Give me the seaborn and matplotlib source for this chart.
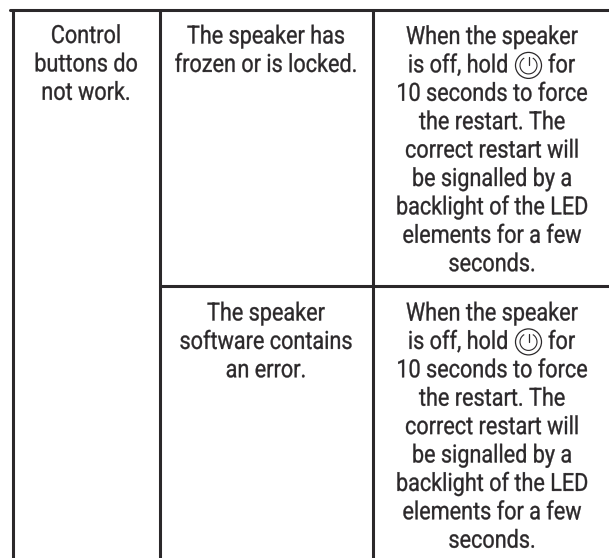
import matplotlib
matplotlib.use('Agg')
import matplotlib.pyplot as plt
from matplotlib.patches import Arc
from matplotlib.patheffects import AbstractPathEffect
from matplotlib.transforms import Affine2D
import pandas as pd
import seaborn as sns

sns.set_theme(style='white')
plt.rcParams['font.family'] = ['Roboto', 'DejaVu Sans']
INK = '#2b282a'
SIZE = 18.0
NARROW = 0.865

# tekst komorek
col1 = ['Control', 'buttons do', 'not work.']
col2_top = ['The speaker has', 'frozen or is locked.']
col2_bottom = ['The speaker', 'software contains', 'an error.']
col3 = ['When the speaker', None, '10 seconds to force', 'the restart. The',
        'correct restart will', 'be signalled by a', 'backlight of the LED',
        'elements for a few', 'seconds.']
icon_left = 'is off, hold'
icon_right = 'for'

# linie tabeli
rule_x0 = [10, 160, 12.5, 160, 372.7]
rule_x1 = [609, 609, 12.5, 160, 372.7]
rule_y0 = [9.5, 285.7, 10, 10, 10]
rule_y1 = [9.5, 285.7, 558, 558, 558]

rows = []
for i in range(len(rule_x0)):
    rows.append({'rule': i, 'x': rule_x0[i], 'y': rule_y0[i]})
    rows.append({'rule': i, 'x': rule_x1[i], 'y': rule_y1[i]})
lines = pd.DataFrame(rows)


# zweza tekst w poziomie, bo nie ma kroju condensed
class Squeeze(AbstractPathEffect):
    def __init__(self, anchor):
        super().__init__()
        self.anchor = anchor

    def draw_path(self, renderer, gc, tpath, affine, rgbFace=None):
        cx = ax.transData.transform((self.anchor, 0))[0]
        squeezed = affine + Affine2D().translate(-cx, 0).scale(NARROW, 1).translate(cx, 0)
        gc0 = renderer.new_gc()
        gc0.copy_properties(gc)
        gc0.set_foreground(INK)
        gc0.set_linewidth(0.25)
        renderer.draw_path(gc0, tpath, squeezed, rgbFace)
        gc0.restore()


fig = plt.figure(figsize=(6.09, 5.58), dpi=100)
ax = fig.add_axes([0, 0, 1, 1])
sns.lineplot(data=lines, x='x', y='y', units='rule', estimator=None,
             color=INK, linewidth=2.2, ax=ax, legend=False)
ax.set_xlim(0, 609)
ax.set_ylim(558, 0)
ax.axis('off')


def put(s, x, y, ha='center'):
    t = ax.text(x, y, s, ha=ha, va='baseline', fontsize=SIZE, color=INK)
    t.set_path_effects([Squeeze(x)])


def write(block, x, y0, pitch=28.4):
    for n, s in enumerate(block):
        if s is not None:
            put(s, x, y0 + n * pitch)


write(col1, 86, 43)
write(col2_top, 266, 43.5)
write(col2_bottom, 266, 320.5)
write(col3, 492, 44)
write(col3, 492, 320.5)

# ikona zasilania
for y in [72.4, 348.9]:
    put(icon_left, 508, y, ha='right')
    put(icon_right, 548, y, ha='left')
    ax.add_patch(plt.Circle((528.5, y - 7), 13, fill=False, ec=INK, lw=0.9))
    ax.add_patch(Arc((528.5, y - 7), 17, 17, theta1=-60, theta2=240, ec=INK, lw=0.8))
    ax.plot([528.5, 528.5], [y - 15, y - 7], color=INK, lw=0.9)

fig.savefig('out.png', dpi=100)
